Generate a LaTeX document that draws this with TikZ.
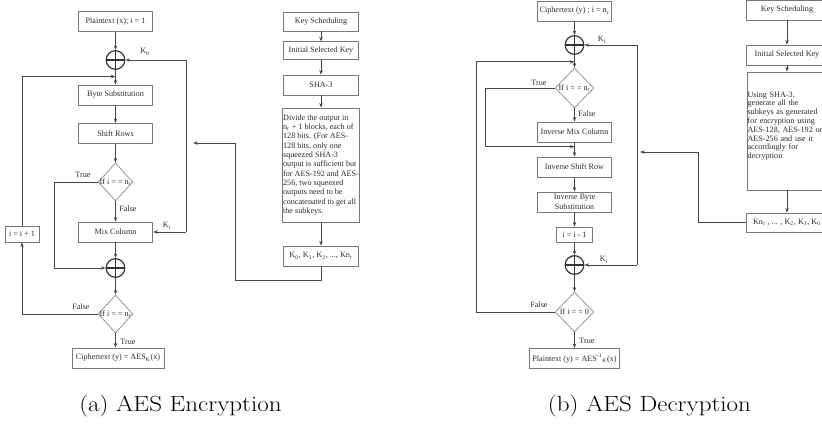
\documentclass[tikz,border=0pt]{standalone}
\usepackage{fontspec}
\newfontfamily\boxfont{Liberation Serif}
\usetikzlibrary{shapes.geometric,arrows.meta,positioning,calc}

\definecolor{boxgray}{RGB}{120,120,120}
\definecolor{linegray}{RGB}{70,70,70}
\definecolor{txtgray}{RGB}{45,45,45}
\definecolor{condgray}{RGB}{150,150,150}

\tikzset{
    flowbox/.style={draw=boxgray, line width=0.6pt, fill=white, text=txtgray, font=\boxfont\fontsize{6.1}{7}\selectfont, minimum width=56pt, minimum height=15pt, inner sep=0.5pt, align=center},
    condbox/.style={diamond, draw=condgray, line width=0.6pt, minimum width=26pt, minimum height=28.5pt, inner sep=0pt},
    condtxt/.style={text=txtgray, font=\boxfont\fontsize{6.1}{7}\selectfont, inner sep=0pt},
    xorop/.style={circle, draw=black!80, line width=0.9pt, minimum size=14pt, inner sep=0pt, path picture={\draw[black!80, line width=0.9pt] (path picture bounding box.north) -- (path picture bounding box.south) (path picture bounding box.west) -- (path picture bounding box.east);}},
    flowlbl/.style={text=txtgray, font=\boxfont\fontsize{6.1}{7}\selectfont, inner sep=0pt},
    flowline/.style={draw=linegray, line width=0.6pt},
    caption/.style={font=\fontsize{16.5}{20}\selectfont, inner sep=0pt}
}

\begin{document}
\begin{tikzpicture}[x=0.75pt, y=-0.75pt, >={Stealth[length=3.5pt, width=2.6pt]}]
    \useasboundingbox (0,0) rectangle (822,424);

    % (a) encryption rounds
    \node[flowbox] (ptx) at (115.5,21.5) {Plaintext (x); i = 1};
    \node[xorop] (xa1) at (115.5,60) {};
    \node[flowbox] (bsub) at (115.5,95) {Byte Substitution};
    \node[flowbox] (srow) at (115.5,133.5) {Shift Rows};
    \node[condbox, minimum width=26pt, minimum height=28.5pt] (ca1) at (115.5,182) {};
    \node[condtxt] (ca1t) at (ca1) {If i = = n\textsubscript{r}};
    \node[flowbox] (mcol) at (115.5,232) {Mix Column};
    \node[xorop] (xa2) at (115.5,268) {};
    \node[condbox, minimum width=26pt, minimum height=28.5pt] (ca2) at (115.5,314) {};
    \node[condtxt] (ca2t) at (ca2) {If i = = n\textsubscript{r}};
    \node[flowbox, minimum width=69pt] (ctx) at (118,358) {Ciphertext (y) = AES\textsubscript{K}(x)};
    \node[flowbox, minimum width=25.5pt, minimum height=12pt] (iinc) at (22,234) {i = i + 1};

    % (a) key column
    \node[flowbox, minimum width=56pt, minimum height=14.25pt] (ksa) at (321,21.5) {Key Scheduling};
    \node[flowbox, minimum width=56pt, minimum height=13pt] (iska) at (321,50.5) {Initial Selected Key};
    \node[flowbox, minimum width=56pt] (sha) at (321,85) {SHA-3};
    \node[flowbox, minimum width=56pt, minimum height=85.5pt, align=left] (diva) at (321,165) {Divide the output in\\ n\textsubscript{r} + 1 blocks, each of\\ 128 bits. (For AES-\\ 128 bits, only one\\ squeezed SHA-3\\ output is sufficient but\\ for AES-192 and AES-\\ 256, two squeezed\\ outputs need to be\\ concatenated to get all\\ the subkeys.};
    \node[flowbox, minimum width=56pt] (klist) at (321,256) {K\textsubscript{0}, K\textsubscript{1}, K\textsubscript{2}, ..., Kn\textsubscript{r}};

    % (a) labels
    \node[flowlbl] (k0a) at (145,52) {K\textsubscript{0}};
    \node[flowlbl] (kia) at (167,226) {K\textsubscript{i}};
    \node[flowlbl] (ta1) at (83,175) {True};
    \node[flowlbl] (fa1) at (128,209) {False};
    \node[flowlbl] (fa2) at (81,307) {False};
    \node[flowlbl] (ta2) at (128,342) {True};

    % (a) arrows
    \draw[flowline,->] (ptx) -- (xa1);
    \draw[flowline,->] (xa1) -- (bsub);
    \draw[flowline,->] (bsub) -- (srow);
    \draw[flowline,->] (srow) -- (ca1);
    \draw[flowline,->] (ca1) -- (mcol);
    \draw[flowline,->] (mcol) -- (xa2);
    \draw[flowline,->] (xa2) -- (ca2);
    \draw[flowline,->] (ca2.south) -- (ca2.south |- ctx.north);
    \draw[flowline,->] (ca1.west) -- ++(-43.5,0) |- (xa2.west);
    \draw[flowline,->] (ca2.west) -| (iinc.south);
    \draw[flowline,->] (iinc.north) |- ($(xa1.south)!0.45!(bsub.north)$);
    \coordinate (kbta) at (186,60);
    \coordinate (kbba) at (186,232);
    \draw[flowline,->] (kbta) -- (xa1);
    \draw[flowline] (kbta) -- (kbba);
    \draw[flowline,->] (kbba) -- (mcol.east);
    \draw[flowline,->] (ksa) -- (iska);
    \draw[flowline,->] (iska) -- (sha);
    \draw[flowline,->] (sha) -- (diva);
    \draw[flowline,->] (diva) -- (klist);
    \coordinate (kina) at (193,143);
    \coordinate (kbenda) at (235,143);
    \draw[flowline,->] (klist.south) -- ++(0,14) -| (kbenda) -- (kina);

    % (b) decryption rounds
    \node[flowbox] (ctxb) at (574.5,11) {Ciphertext (y) ; i = n\textsubscript{r}};
    \node[xorop] (xb1) at (574.5,45) {};
    \node[condbox, minimum width=29pt, minimum height=30pt] (cb1) at (574.5,88) {};
    \node[condtxt] (cb1t) at (cb1) {If i = = n\textsubscript{r}};
    \node[flowbox] (imix) at (574.5,132) {Inverse Mix Column};
    \node[flowbox] (ishift) at (574.5,167) {Inverse Shift Row};
    \node[flowbox] (ibsub) at (574.5,202) {Inverse Byte\\Substitution};
    \node[flowbox, minimum width=27pt, minimum height=11.25pt] (idec) at (574.5,234.5) {i = i - 1};
    \node[xorop] (xb2) at (574.5,265) {};
    \node[condbox, minimum width=29pt, minimum height=30pt] (cb2) at (574.5,312) {};
    \node[condtxt] (cb2t) at (cb2) {If i = = 0};
    \node[flowbox, minimum width=68pt] (ptxb) at (574.5,358.5) {Plaintext (y) = AES\textsuperscript{-1}\textsubscript{K}(x)};

    % (b) key column
    \node[flowbox, minimum width=61pt] (ksb) at (787,10) {Key Scheduling};
    \node[flowbox, minimum width=61pt] (iskb) at (787,55) {Initial Selected Key};
    \node[flowbox, anchor=west, text width=70pt, minimum height=88.5pt, align=left, font=\boxfont\fontsize{6.1}{6.6}\selectfont] (genb) at (746.5,131) {Using SHA-3,\\ generate all the\\ subkeys as generated\\ for encryption using\\ AES-128, AES-192 or\\ AES-256 and use it\\ accordingly for\\ decryption\\[2pt] \mbox{}};
    \node[flowbox, minimum width=61pt, minimum height=14.25pt] (klistb) at (787,222.5) {Kn\textsubscript{r} , ... , K\textsubscript{2}, K\textsubscript{1}, K\textsubscript{0}};

    % (b) labels
    \node[flowlbl] (kib1) at (602,40) {K\textsubscript{i}};
    \node[flowlbl] (kib2) at (604,260) {K\textsubscript{i}};
    \node[flowlbl] (tb1) at (539,83) {True};
    \node[flowlbl] (fb1) at (587,114) {False};
    \node[flowlbl] (fb2) at (539,305) {False};
    \node[flowlbl] (tb2) at (587,341) {True};

    % (b) arrows
    \draw[flowline,->] (ctxb) -- (xb1);
    \draw[flowline,->] (xb1) -- (cb1);
    \draw[flowline,->] (cb1) -- (imix);
    \draw[flowline,->] (imix) -- (ishift);
    \draw[flowline,->] (ishift) -- (ibsub);
    \draw[flowline,->] (ibsub) -- (idec);
    \draw[flowline,->] (idec) -- (xb2);
    \draw[flowline,->] (xb2) -- (cb2);
    \draw[flowline,->] (cb2) -- (ptxb);
    \draw[flowline,->] (cb1.west) -- ++(-69,0) |- ($(imix.south)!0.3!(ishift.north)$);
    \draw[flowline,->] (cb2.west) -- ++(-78,0) |- ($(xb1.south)!0.55!(cb1.north)$);
    \coordinate (kbtb) at (637,45);
    \coordinate (kbbb) at (637,265);
    \draw[flowline,->] (kbtb) -- (xb1);
    \draw[flowline] (kbtb) -- (kbbb);
    \draw[flowline,->] (kbbb) -- (xb2);
    \draw[flowline,->] (ksb) -- (iskb);
    \draw[flowline,->] (iskb.south) -- (iskb.south |- genb.north);
    \draw[flowline,->] (klistb.north |- genb.south) -- (klistb.north);
    \coordinate (kinb) at (640,152);
    \coordinate (kbendb) at (698,152);
    \draw[flowline,->] (klistb.west) -| (kbendb) -- (kinb);

    % captions
    \node[caption] (capa) at (180.5,406) {\scalebox{1.14}[1]{(a) AES Encryption}};
    \node[caption] (capb) at (649.5,406) {\scalebox{1.14}[1]{(b) AES Decryption}};
\end{tikzpicture}
\end{document}
